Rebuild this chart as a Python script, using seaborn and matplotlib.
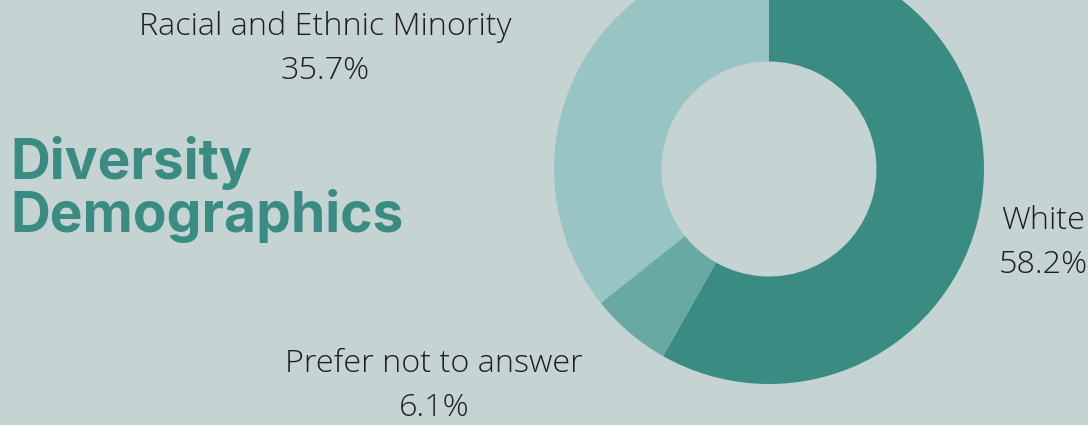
import matplotlib
matplotlib.use("Agg")
import matplotlib.pyplot as plt
import seaborn as sns

# Survey breakdown
categories = ["White", "Prefer not to answer", "Racial and Ethnic Minority"]
shares = [58.2, 6.1, 35.7]
title_lines = ["Diversity", "Demographics"]

BG = "#c5d4d3"
TEAL = "#3a8b82"
palette = ["#3a8b82", "#68a9a4", "#98c4c3"]

sns.set_theme(style="white")
plt.rcParams["font.family"] = ["Open Sans", "DejaVu Sans"]

W, H = 1088, 425
fig = plt.figure(figsize=(W / 100, H / 100), dpi=100, facecolor=BG)
ax = fig.add_axes([0, 0, 1, 1])
ax.set_facecolor(BG)

center = (769, H - 169)
radius = 215
ax.pie(shares, colors=palette, startangle=90, counterclock=False,
       center=center, radius=radius, frame=True,
       wedgeprops=dict(width=radius * 0.5, linewidth=0))
ax.set_xlim(0, W)
ax.set_ylim(0, H)
ax.set_aspect("equal")
ax.axis("off")

label_pos = {
    "White": (1043, H - 243),
    "Prefer not to answer": (434, H - 386),
    "Racial and Ethnic Minority": (325, H - 49),
}
for name, val in zip(categories, shares):
    x, y = label_pos[name]
    ax.text(x, y, f"{name}\n{val}%", ha="center", va="center",
            fontsize=23.3, fontweight="light", color="#1e1e1e",
            linespacing=1.46)

ax.text(10, H - 136, "\n".join(title_lines), ha="left", va="top",
        fontsize=39.7, fontweight="bold", color=TEAL, family="Inter",
        linespacing=0.98)

fig.savefig("out.png", dpi=100, facecolor=BG)
